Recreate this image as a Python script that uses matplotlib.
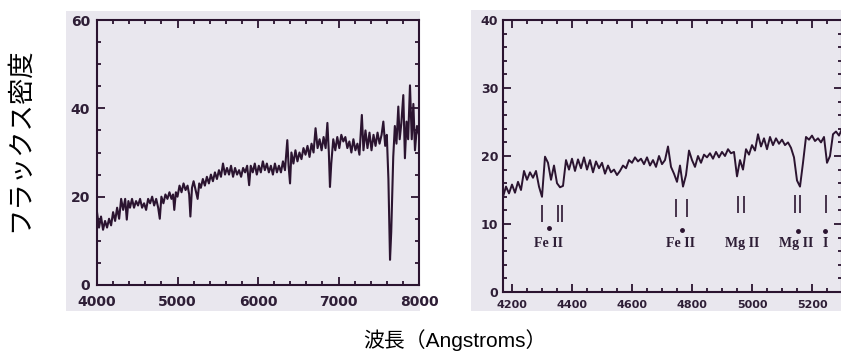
"""
Two scanned-looking spectra side by side: flux density vs wavelength,
with absorption line markers (Fe II, Mg II) on the zoomed right panel.
Saves out.png (841x362).
"""

import matplotlib
matplotlib.use("Agg")
import matplotlib.pyplot as plt
from matplotlib.patches import Rectangle
from matplotlib.ticker import MultipleLocator

# ---------------------------------------------------------------- data --
# left panel: 4000-8000 A
WAVE_L = [4000, 4025, 4050, 4075, 4100, 4125, 4150, 4175, 4200, 4225,
          4250, 4275, 4300, 4325, 4350, 4370, 4390, 4410, 4435, 4460,
          4485, 4510, 4535, 4560, 4585, 4610, 4635, 4660, 4685, 4710,
          4735, 4760, 4780, 4800, 4825, 4850, 4875, 4900, 4925, 4945,
          4960, 4980, 5000, 5025, 5050, 5075, 5100, 5125, 5145, 5160,
          5180, 5200, 5225, 5250, 5270, 5290, 5315, 5340, 5365, 5390,
          5415, 5440, 5465, 5490, 5515, 5540, 5565, 5590, 5615, 5640,
          5665, 5690, 5715, 5740, 5765, 5790, 5815, 5840, 5865, 5890,
          5910, 5935, 5960, 5985, 6010, 6035, 6060, 6085, 6110, 6135,
          6160, 6185, 6210, 6235, 6260, 6285, 6310, 6335, 6364, 6380,
          6398, 6415, 6440, 6465, 6490, 6515, 6540, 6565, 6590, 6615,
          6640, 6665, 6690, 6715, 6740, 6765, 6790, 6815, 6840, 6862,
          6880, 6894, 6910, 6935, 6960, 6985, 7010, 7035, 7060, 7085,
          7110, 7135, 7160, 7185, 7210, 7235, 7260, 7290, 7310, 7335,
          7360, 7385, 7410, 7435, 7460, 7485, 7510, 7535, 7557, 7580,
          7600, 7620, 7640, 7655, 7680, 7700, 7720, 7743, 7760, 7780,
          7805, 7825, 7845, 7865, 7888, 7910, 7930, 7950, 7975, 8000]
FLUX_L = [16.5, 13.0, 15.5, 12.5, 14.5, 13.0, 15.0, 13.5, 16.5, 14.5,
          17.5, 15.0, 19.5, 17.0, 19.5, 14.8, 19.0, 17.5, 19.5, 17.5,
          19.0, 18.0, 19.5, 17.5, 18.5, 17.0, 19.5, 18.5, 20.0, 18.0,
          19.5, 17.5, 15.0, 20.0, 18.5, 20.5, 19.5, 21.0, 19.5, 20.5,
          17.0, 21.0, 20.0, 22.5, 21.0, 23.0, 21.5, 22.5, 20.5, 15.5,
          22.0, 23.5, 21.5, 19.5, 23.0, 22.0, 24.0, 22.5, 24.5, 23.0,
          25.0, 23.5, 25.5, 24.0, 26.0, 24.5, 27.5, 25.0, 26.5, 25.0,
          27.0, 24.5, 26.5, 25.0, 26.0, 24.5, 26.5, 25.5, 27.0, 22.6,
          27.0, 25.5, 27.5, 25.0, 27.0, 25.5, 28.0, 26.0, 27.5, 25.5,
          27.0, 25.0, 27.5, 25.5, 27.0, 25.5, 28.0, 26.0, 32.8, 27.0,
          23.0, 30.0, 27.5, 30.5, 28.0, 30.0, 28.5, 31.0, 29.5, 31.5,
          29.0, 32.0, 30.0, 35.5, 31.0, 33.0, 30.5, 33.5, 31.0, 36.7,
          30.0, 22.2, 27.5, 33.0, 30.5, 33.5, 31.0, 34.0, 32.5, 33.5,
          31.0, 32.5, 30.0, 33.0, 30.5, 32.0, 29.5, 38.5, 30.5, 35.0,
          31.0, 34.5, 30.5, 34.0, 31.5, 34.5, 32.0, 34.0, 37.0, 31.5,
          34.0, 24.0, 5.7, 12.0, 29.0, 36.0, 32.0, 40.4, 33.0, 36.5,
          43.0, 28.7, 37.0, 33.0, 45.2, 33.0, 41.0, 30.5, 36.0, 34.0]

# right panel: 4170-5300 A, 10 A steps
WAVE_R = [4170, 4180, 4190, 4200, 4210, 4220, 4230, 4240, 4250, 4260,
          4270, 4280, 4290, 4300, 4310, 4320, 4330, 4340, 4350, 4360,
          4370, 4380, 4390, 4400, 4410, 4420, 4430, 4440, 4450, 4460,
          4470, 4480, 4490, 4500, 4510, 4520, 4530, 4540, 4550, 4560,
          4570, 4580, 4590, 4600, 4610, 4620, 4630, 4640, 4650, 4660,
          4670, 4680, 4690, 4700, 4710, 4720, 4730, 4740, 4750, 4760,
          4770, 4780, 4790, 4800, 4810, 4820, 4830, 4840, 4850, 4860,
          4870, 4880, 4890, 4900, 4910, 4920, 4930, 4940, 4950, 4960,
          4970, 4980, 4990, 5000, 5010, 5020, 5030, 5040, 5050, 5060,
          5070, 5080, 5090, 5100, 5110, 5120, 5130, 5140, 5150, 5160,
          5170, 5180, 5190, 5200, 5210, 5220, 5230, 5240, 5250, 5260,
          5270, 5280, 5290, 5300]
FLUX_R = [14.0, 15.5, 14.5, 15.8, 14.6, 16.2, 15.0, 17.8, 16.5, 17.6,
          16.8, 17.8, 15.5, 14.0, 19.9, 19.0, 16.5, 18.6, 16.0, 15.4,
          15.6, 19.4, 18.0, 19.6, 17.8, 19.5, 18.2, 19.8, 18.0, 19.4,
          17.6, 19.2, 18.2, 19.0, 17.4, 18.6, 17.6, 18.0, 17.2, 17.8,
          18.6, 18.2, 19.4, 19.0, 19.8, 19.2, 19.6, 18.8, 19.8, 18.6,
          19.4, 18.4, 20.0, 18.8, 19.4, 21.4, 18.4, 17.4, 16.2, 18.6,
          15.5, 17.2, 20.8, 19.4, 18.4, 20.0, 19.0, 20.2, 19.8, 20.4,
          19.6, 20.6, 19.8, 20.6, 20.0, 21.0, 20.4, 20.6, 17.0, 19.4,
          18.0, 21.0, 20.2, 21.6, 20.8, 23.2, 21.4, 22.6, 21.0, 22.8,
          21.6, 22.6, 21.8, 22.4, 21.6, 22.0, 21.2, 19.8, 16.4, 15.5,
          19.0, 22.8, 22.4, 23.0, 22.2, 22.6, 22.0, 22.8, 19.0, 20.0,
          23.2, 23.6, 23.0, 24.0]

# line identifications on the right panel
LINE_GROUPS = ["Fe II", "Fe II", "Mg II", "Mg II", "I"]
LINE_WAVES = [[4300, 4353, 4367], [4747, 4783], [4953, 4973],
              [5143, 5160], [5247]]
LINE_TOP = [12.8, 13.7, 14.1, 14.2, 14.2]
LINE_BOT = [10.3, 11.0, 11.6, 11.6, 11.6]
DOT_WAVE = [4323, 4767, None, 5153, 5243]
DOT_FLUX = [9.4, 9.1, None, 9.0, 9.0]
LABEL_WAVE = [4320, 4763, 4967, 5147, 5243]
LABEL_FLUX = 7.2

# -------------------------------------------------------------- styling --
PAPER = "#e9e7ee"
INK = "#2b1430"
TXT = "#2e1e36"

plt.rcParams["font.family"] = ["DejaVu Sans", "Noto Sans CJK JP"]
JP = ["Liberation Sans", "Noto Sans CJK JP"]

W, H = 841, 362
fig = plt.figure(figsize=(W / 100, H / 100), dpi=100)
fig.patch.set_facecolor("white")


def frac(x0, y0, x1, y1):
    # pixel box (top-left origin) -> figure fraction [l, b, w, h]
    return [x0 / W, 1 - y1 / H, (x1 - x0) / W, (y1 - y0) / H]


# paper backgrounds of the two scans (behind the axes)
for x0, y0, x1, y1 in [(66, 11, 420, 311), (471, 10, 841, 311)]:
    l, b, w, h = frac(x0, y0, x1, y1)
    fig.patches.append(Rectangle((l, b), w, h, transform=fig.transFigure,
                                 facecolor=PAPER, edgecolor="none",
                                 zorder=-10))


def style(ax, xsize, ysize):
    ax.set_facecolor(PAPER)
    for s in ax.spines.values():
        s.set_color(INK)
        s.set_linewidth(1.5)
    ax.tick_params(which="both", direction="in", top=True, right=True,
                   color=INK, width=1.3, labelcolor=TXT)
    ax.tick_params(axis="x", labelsize=xsize)
    ax.tick_params(axis="y", labelsize=ysize)
    ax.tick_params(which="major", length=6)
    ax.tick_params(which="minor", length=3)
    for lbl in ax.get_xticklabels() + ax.get_yticklabels():
        lbl.set_fontweight("bold")


# ---- left panel
axL = fig.add_axes(frac(97, 20, 419, 285))
axL.plot(WAVE_L, FLUX_L, color=INK, lw=1.5)
axL.set_xlim(4000, 8000)
axL.set_ylim(0, 60)
axL.xaxis.set_major_locator(MultipleLocator(1000))
axL.xaxis.set_minor_locator(MultipleLocator(200))
axL.yaxis.set_major_locator(MultipleLocator(20))
axL.yaxis.set_minor_locator(MultipleLocator(5))
style(axL, 10, 10)
axL.tick_params(axis="x", pad=7)
axL.tick_params(axis="y", pad=5)

# ---- right panel
axR = fig.add_axes(frac(503, 20, 842, 292))
axR.plot(WAVE_R, FLUX_R, color=INK, lw=1.4)
axR.set_xlim(4170, 5300)
axR.set_ylim(0, 40)
axR.xaxis.set_major_locator(MultipleLocator(200))
axR.xaxis.set_minor_locator(MultipleLocator(50))
axR.yaxis.set_major_locator(MultipleLocator(10))
axR.yaxis.set_minor_locator(MultipleLocator(2))
style(axR, 8, 9)
axR.tick_params(axis="x", pad=6)

for name, waves, top, bot, dw, df, lw_ in zip(LINE_GROUPS, LINE_WAVES,
                                               LINE_TOP, LINE_BOT, DOT_WAVE,
                                               DOT_FLUX, LABEL_WAVE):
    axR.vlines(waves, bot, top, color=INK, lw=1.2)
    if dw is not None:
        axR.plot(dw, df, "o", color=INK, ms=2.5)
    axR.text(lw_, LABEL_FLUX, name, ha="center", va="center",
             fontsize=10, fontweight="bold", family="Liberation Serif",
             color=TXT)

# ---- shared labels
fig.text(20 / W, 1 - 140 / H, "フラックス密度", rotation=90, ha="center",
         va="center", fontsize=19, family=JP, color="black")
fig.text(455 / W, 1 - 340 / H, "波長（Angstroms）", ha="center",
         va="center", fontsize=15, family=JP, color="black")

fig.savefig("out.png", dpi=100, facecolor="white")
